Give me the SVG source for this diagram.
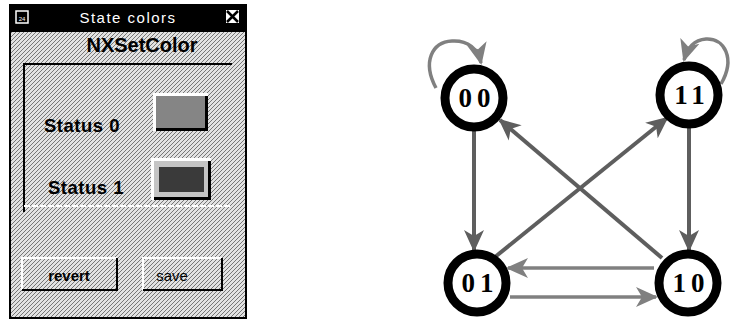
<svg xmlns="http://www.w3.org/2000/svg" width="734" height="323" viewBox="0 0 734 323">
<defs>
<style>
.lbl{font-family:"Liberation Sans",Arial,sans-serif;font-weight:bold;fill:#000}
.node circle{fill:#fff;stroke:#000;stroke-width:9}
.node text{font-family:"Liberation Serif","Times New Roman",serif;font-weight:bold;font-size:27px;fill:#000;text-anchor:middle;letter-spacing:5px}
.edge{fill:none;stroke:#5e5e5e;stroke-width:4}
.edgeL{fill:none;stroke:#808080;stroke-width:3.5}
</style>
<pattern id="dith" width="4" height="4" patternUnits="userSpaceOnUse">
<rect width="4" height="4" fill="#e2e2e2"/>
<path d="M0 4L4 0M-1 1L1 -1M3 5L5 3" stroke="#6a6a6a" stroke-width="0.9"/>
</pattern>
<marker id="arr" viewBox="0 0 22 22" refX="20" refY="11" markerWidth="22" markerHeight="22" markerUnits="userSpaceOnUse" orient="auto">
<path d="M0 1L22 11L0 21L6 11Z" fill="#5e5e5e"/>
</marker>
<marker id="arrL" viewBox="0 0 22 22" refX="20" refY="11" markerWidth="22" markerHeight="22" markerUnits="userSpaceOnUse" orient="auto">
<path d="M0 1L22 11L0 21L6 11Z" fill="#808080"/>
</marker>
</defs>
<rect width="734" height="323" fill="#fff"/>

<g id="window">
<rect x="10" y="5" width="236" height="313" fill="url(#dith)" stroke="#000" stroke-width="2"/>
<rect x="10" y="5" width="236" height="27" fill="#000"/>
<rect x="16" y="11" width="12" height="12" fill="none" stroke="#fff" stroke-width="1.5"/>
<text x="22" y="20.5" font-family="Liberation Sans,sans-serif" font-size="6" fill="#fff" text-anchor="middle">24</text>
<text x="128" y="23" font-family="&quot;Liberation Sans&quot;,Arial,sans-serif" font-size="15" fill="#fff" text-anchor="middle" letter-spacing="1.5">State colors</text>
<rect x="226" y="10" width="13" height="13" fill="#fff"/>
<path d="M227 11L238 22M238 11L227 22" stroke="#000" stroke-width="2.5"/>
<text class="lbl" x="142" y="52" font-size="20" text-anchor="middle">NXSetColor</text>
<path d="M24 212V64H232" fill="none" stroke="#000" stroke-width="2"/>
<path d="M24 206H232" fill="none" stroke="#fff" stroke-width="2" stroke-dasharray="6 2"/>
<text class="lbl" x="44" y="132" font-size="18.5" letter-spacing="0.5">Status 0</text>
<text class="lbl" x="48" y="194" font-size="18.5" letter-spacing="0.5">Status 1</text>
<g id="swatch0">
<rect x="153" y="93" width="55" height="38" fill="#fff"/>
<rect x="156" y="96" width="52" height="35" fill="#000"/>
<rect x="156" y="96" width="49" height="32" fill="#858585"/>
</g>
<g id="swatch1">
<rect x="151" y="158" width="60" height="42" fill="#fff"/>
<rect x="154" y="161" width="57" height="39" fill="#000"/>
<rect x="154" y="161" width="54" height="36" fill="#c4c4c4"/>
<rect x="159" y="167" width="45" height="25" fill="#3a3a3a"/>
</g>
<g id="revert">
<path d="M22 290V258H117" fill="none" stroke="#fff" stroke-width="2"/>
<path d="M22 290H117V258" fill="none" stroke="#000" stroke-width="2"/>
<text class="lbl" x="69" y="281" font-size="15" text-anchor="middle">revert</text>
</g>
<g id="save">
<path d="M143 290V258H222" fill="none" stroke="#fff" stroke-width="2"/>
<path d="M143 290H222V258" fill="none" stroke="#000" stroke-width="2"/>
<text x="172" y="281" font-family="&quot;Liberation Sans&quot;,Arial,sans-serif" font-size="15" text-anchor="middle" fill="#000">save</text>
</g>
</g>

<g id="edges">
<path class="edge" d="M474 131V250" marker-end="url(#arr)"/>
<path class="edge" d="M689 128V250" marker-end="url(#arr)"/>
<path class="edge" d="M495 257L667 118" marker-end="url(#arr)"/>
<path class="edge" d="M662 258L500 120" marker-end="url(#arr)"/>
<path class="edgeL" d="M654 268H508" marker-end="url(#arrL)"/>
<path class="edgeL" d="M510 297H656" marker-end="url(#arrL)"/>
<path class="edgeL" d="M436 88C422 62 432 42 452 41C468 40 478 49 481 63" marker-end="url(#arrL)"/>
<path class="edgeL" d="M721 84C736 58 724 38 706 39C694 40 688 47 684 60" marker-end="url(#arrL)"/>
</g>

<g id="n00" class="node"><circle cx="474" cy="98" r="29"/><text x="477" y="107">00</text></g>
<g id="n11" class="node"><circle cx="689" cy="95" r="29"/><text x="692" y="104">11</text></g>
<g id="n01" class="node"><circle cx="477" cy="283" r="29"/><text x="480" y="292">01</text></g>
<g id="n10" class="node"><circle cx="688" cy="283" r="29"/><text x="691" y="292">10</text></g>
</svg>
